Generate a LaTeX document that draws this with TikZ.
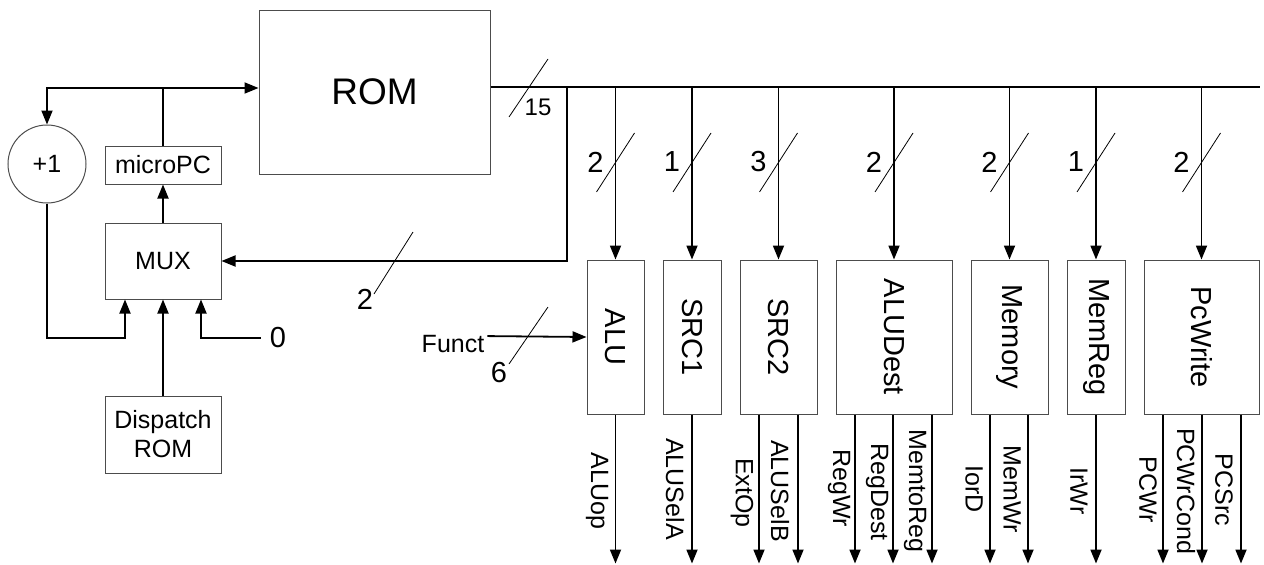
\documentclass[tikz,border=0pt]{standalone}
\usepackage{fontspec}
\setmainfont{Liberation Sans}
\usetikzlibrary{arrows.meta}
\tikzset{
  ucbox/.style={draw=black!70,line width=1pt,inner sep=0pt,align=center,font=\fontsize{25}{29}\selectfont},
  decbox/.style={draw=black!70,line width=1pt,inner sep=0pt,minimum height=154pt,font=\fontsize{29}{34}\selectfont},
  wire/.style={line width=1.8pt},
  arr/.style={-{Triangle[length=14pt,width=11pt]}},
  slash/.style={line width=.8pt},
  numlbl/.style={inner sep=1pt,font=\fontsize{29}{34}\selectfont},
  txtlbl/.style={inner sep=3pt,font=\fontsize{25}{29}\selectfont},
  outlbl/.style={inner sep=0pt,rotate=-90,font=\fontsize{25}{29}\selectfont}
}
\begin{document}
\begin{tikzpicture}[x=1pt,y=-1pt]
  \useasboundingbox (0,0) rectangle (1264,565);

  % sequencer
  \node[ucbox,minimum width=231pt,minimum height=164pt,font=\fontsize{37}{42}\selectfont] (rom) at (374.5,92) {ROM};
  \node[ucbox,minimum width=116pt,minimum height=38pt] (mpc) at (163,165) {microPC};
  \node[ucbox,minimum width=116pt,minimum height=76pt] (mux) at (163,261) {MUX};
  \node[ucbox,minimum width=116pt,minimum height=77pt] (disp) at (163,434.5) {Dispatch\\ROM};
  \node[ucbox,circle,minimum size=78pt] (inc) at (47,164) {+1};
  \node[numlbl] (zero) at (278,338) {0};
  \coordinate (fb) at (163,88);
  \coordinate (ina) at (125,338);
  \coordinate (tap) at (567,87);
  \coordinate (busend) at (1260,87);

  \draw[wire] (mpc.north) -- (fb);
  \draw[wire,arr] (fb) -- (rom.west |- fb);
  \draw[wire,arr] (fb) -| (inc.north);
  \draw[wire,arr] (mux.north) -- (mpc.south);
  \draw[wire,arr] (inc.south) |- (ina) -- (ina |- mux.south);
  \draw[wire,arr] (disp.north) -- (mux.south);
  \draw[wire,arr] ([xshift=-8pt]zero.west) -| ([xshift=38pt]mux.south);

  % microinstruction bus
  \draw[wire] (rom.east |- tap) -- (busend);
  \draw[slash] (509,117) -- (548,59);
  \node[inner sep=1pt,font=\fontsize{24}{28}\selectfont] (w15) at (538,107) {15};
  \draw[wire,arr] (tap) |- (mux.east);
  \draw[slash] (374,294) -- (413,232);
  \node[numlbl] (wmux) at (365,299) {2};

  % field decoders
  \foreach \n/\x/\w/\t in {alu/615.5/57/ALU, srcone/692/58/SRC1, srctwo/778.5/77/SRC2,
      aludest/894/116/ALUDest, memory/1009.5/77/Memory, memreg/1096/58/MemReg, pcwrite/1201.5/115/PcWrite}
    \node[decbox,minimum width=\w pt] (\n) at (\x,337) {\rotatebox[origin=c]{-90}{\t}};

  \foreach \n/\b in {alu/2, srcone/1, srctwo/3, aludest/2, memory/2, memreg/1, pcwrite/2} {
    \path (\n.north |- tap) coordinate (d\n);
    \draw[wire,arr] (d\n) -- (\n.north);
    \draw[slash] ([shift={(-19,105)}]d\n) -- ([shift={(19,46)}]d\n);
    \node[numlbl] (w\n) at ([shift={(-20,75)}]d\n) {\b};
  }

  \node[txtlbl] (funct) at (453,344) {Funct};
  \draw[wire,arr] ([yshift=-4pt]funct.north east) -- (alu.west);
  \draw[slash] (509,364) -- (548,307);
  \node[numlbl] (wfunct) at (499,373) {6};

  % control signals
  \foreach \n/\dx in {alu/0, srcone/0, srctwo/-19.5, srctwo/19.5, aludest/-39, aludest/-1, aludest/38,
      memory/-19.5, memory/18.5, memreg/0, pcwrite/-38.5, pcwrite/0.5, pcwrite/39.5}
    \draw[wire,arr] ([xshift=\dx pt]\n.south) -- ++(0,149);

  \foreach \i/\x/\y/\t in {1/597/491/ALUop, 2/675/489/ALUSelA, 3/742/493/ExtOp, 4/780/491/ALUSelB,
      5/839/488/RegWr, 6/877/492/RegDest, 7/915/491/MemtoReg, 8/974/489/IorD, 9/1012/489/MemWr,
      10/1079/491/IrWr, 11/1148/490/PCWr, 12/1186/491/PCWrCond, 13/1224/490/PCSrc}
    \node[outlbl] (o\i) at (\x,\y) {\t};
\end{tikzpicture}
\end{document}
